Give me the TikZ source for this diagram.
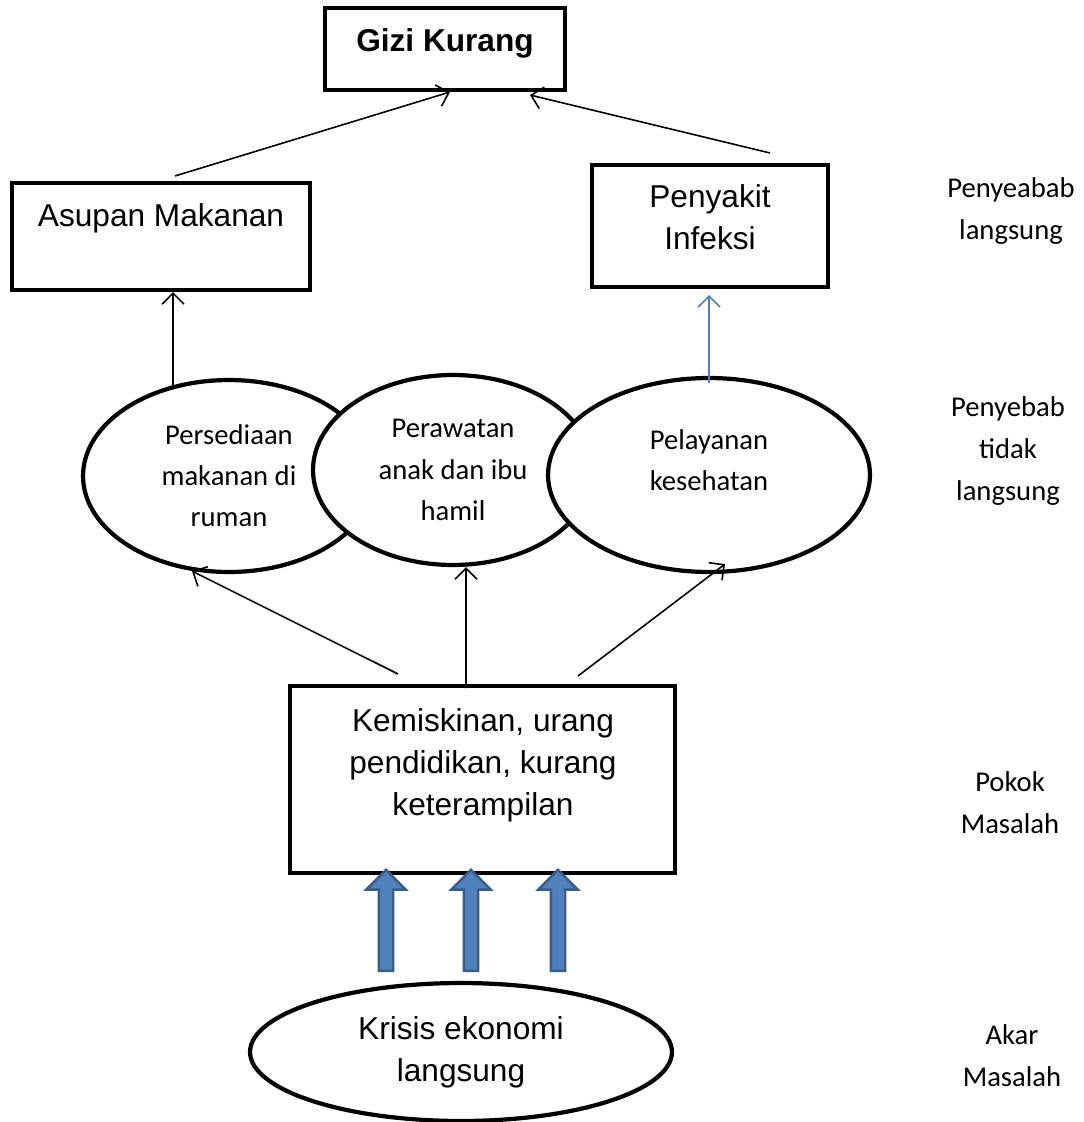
\documentclass[tikz,border=0pt]{standalone}
\usepackage{fontspec}
\setmainfont{Carlito}
\newfontfamily\arialfont{Liberation Sans}
\usetikzlibrary{arrows.meta,shapes.geometric,shapes.arrows}

\begin{document}
\begin{tikzpicture}[
    x=0.02cm, y=-0.02cm,
    >=latex,
]

\definecolor{blueCol}{RGB}{79, 129, 189}
\definecolor{blueDark}{RGB}{56, 93, 138}

\tikzset{
    box_node/.style = {rectangle, draw=black, line width=2.3pt, fill=white},
    box_text/.style = {font=\arialfont\fontsize{18}{24}\selectfont, align=center, inner sep=0pt},
    cause_node/.style = {ellipse, draw=black, line width=2.4pt, fill=white, inner sep=0pt,
                         align=center, font=\fontsize{16.3}{23.4}\selectfont},
    root_node/.style = {ellipse, draw=black, line width=2.4pt, fill=white, inner sep=0pt,
                        align=center, font=\arialfont\fontsize{18}{24}\selectfont},
    side_text/.style = {font=\fontsize{16.3}{23.8}\selectfont, align=center, inner sep=0pt},
    arrow/.style = {line width=0.9pt, -{Straight Barb[length=2.2mm, width=4.4mm]}},
    blue_arrow/.style = {arrow, draw=blueCol},
    fat_arrow/.style = {single arrow, rotate=90, draw=blueDark, fill=blueCol, line width=1.4pt,
                        inner sep=0.12cm, minimum width=0.6cm, minimum height=2.02cm}
}

\useasboundingbox (0,0) rectangle (1083,1122);

% =========== GIZI KURANG ===========
\node[box_node, minimum width=4.8cm, minimum height=1.64cm] (gizi) at (445,49) {};
\node[box_text] (gizi_txt) at (445,43) {\bfseries Gizi Kurang};

% =========== PENYEBAB LANGSUNG ===========
\node[box_node, minimum width=5.96cm, minimum height=2.14cm] (asupan) at (161,236.5) {};
\node[box_text] (asupan_txt) at (161,218) {Asupan Makanan};

\node[box_node, minimum width=4.72cm, minimum height=2.44cm] (infeksi) at (710,226) {};
\node[box_text] (infeksi_txt) at (710,217) {Penyakit\\Infeksi};

\draw[arrow] ([xshift=0.28cm, yshift=0.1cm]asupan.north) -- ([xshift=0.1cm]gizi.south);
\draw[arrow] ([xshift=1.2cm, yshift=0.2cm]infeksi.north) -- ([xshift=1.7cm, yshift=-0.06cm]gizi.south);

% =========== PENYEBAB TIDAK LANGSUNG ===========
\node[cause_node, minimum width=5.84cm, minimum height=3.84cm] (persediaan) at (229,476)
    {Persediaan\\makanan di\\ruman};
\node[cause_node, minimum width=5.6cm, minimum height=3.8cm] (perawatan) at (453,470)
    {Perawatan\\anak dan ibu\\hamil};
\node[cause_node, minimum width=6.44cm, minimum height=3.88cm] (pelayanan) at (709,475)
    {Pelayanan\\kesehatan\\[-0.22cm]};

\draw[arrow] ([xshift=-1.12cm, yshift=-0.2cm]persediaan.north) -- ([xshift=0.24cm]asupan.south);
\draw[blue_arrow] ([yshift=-0.14cm]pelayanan.north) -- ([yshift=-0.12cm]pelayanan.north |- infeksi.south);

% =========== POKOK MASALAH ===========
\node[box_node, minimum width=7.7cm, minimum height=3.74cm] (kemiskinan) at (482.5,779.5) {};
\node[box_text] (kemiskinan_txt) at (483,765) {Kemiskinan, urang\\pendidikan, kurang\\keterampilan};

\draw[arrow] ([xshift=-1.69cm, yshift=0.2cm]kemiskinan.north) -- ([xshift=-0.74cm, yshift=0.06cm]persediaan.south);
\draw[arrow] ([xshift=-0.33cm, yshift=-0.08cm]kemiskinan.north) -- ([xshift=0.26cm]perawatan.south);
\draw[arrow] ([xshift=1.91cm, yshift=0.16cm]kemiskinan.north) -- ([xshift=0.32cm, yshift=0.2cm]pelayanan.south);

% =========== AKAR MASALAH ===========
\node[root_node, minimum width=8.44cm, minimum height=2.76cm] (krisis) at (461,1052)
    {Krisis ekonomi\\langsung};

\node[fat_arrow] (fat_a) at (386,924) {};
\node[fat_arrow] (fat_b) at (471,924) {};
\node[fat_arrow] (fat_c) at (558,924) {};

% =========== SIDE LABELS ===========
\node[side_text] (lbl_langsung) at (1011,211) {Penyeabab\\langsung};
\node[side_text] (lbl_tidak) at (1008,451) {Penyebab\\tidak\\langsung};
\node[side_text] (lbl_pokok) at (1010,803) {Pokok\\Masalah};
\node[side_text] (lbl_akar) at (1012,1056) {Akar\\Masalah};

\end{tikzpicture}
\end{document}
